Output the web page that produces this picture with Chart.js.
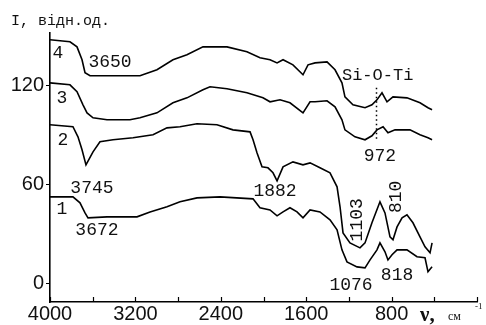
<!DOCTYPE html>
<html>
<head>
<meta charset="utf-8">
<script src="https://cdn.jsdelivr.net/npm/chart.js@4/dist/chart.umd.min.js"></script>
<style>
html,body{margin:0;padding:0;background:#fff;}
</style>
</head>
<body>
<canvas id="irChart" width="486" height="325"></canvas>
<script>
// IR spectra, wavenumber (cm-1) vs intensity (rel. units), curves 1..4
const curve1Wn = [4000,3785,3719,3672,3644,3466,3185,3063,2904,2782,2623,2407,2098,2033,1939,1873,1817,1752,1686,1630,1564,1471,1377,1311,1265,1218,1124,1049,1002,937,909,862,834,796,749,656,562,487,459,421];
const curve1I = [52.7,52.7,49.1,43.0,40.0,40.6,40.6,43.6,46.7,49.7,52.1,52.7,51.5,46.1,44.8,41.2,43.6,46.1,43.6,40.0,44.8,43.6,38.8,32.7,20.6,13.3,10.3,9.7,14.5,20.6,24.8,19.4,14.5,17.6,20.6,20.6,16.4,15.8,7.3,10.3];

const curve2Wn = [4000,3785,3738,3700,3663,3597,3532,3410,3222,3035,2904,2782,2623,2436,2286,2126,2098,2061,2014,1958,1911,1873,1817,1724,1630,1564,1471,1377,1311,1283,1255,1190,1096,1049,984,909,862,815,787,749,702,656,600,534,487,440,421];
const curve2I = [96.4,95.2,89.1,81.2,72.1,80.0,86.1,87.3,88.5,90.3,94.5,95.2,97.0,96.4,93.3,92.1,87.3,79.4,70.9,70.3,67.3,62.4,70.9,73.9,72.1,73.3,70.3,67.3,58.8,46.7,30.9,24.8,21.8,24.8,37.0,49.7,43.0,28.5,26.7,34.5,40.0,41.8,37.0,28.5,22.4,18.8,24.8];

const curve3Wn = [4000,3813,3747,3691,3653,3597,3466,3251,3157,2998,2848,2717,2567,2501,2342,2155,2005,1939,1845,1752,1630,1564,1517,1405,1330,1265,1237,1143,1049,984,937,880,834,768,628,534,459,421];
const curve3I = [121.8,120.6,116.4,108.5,103.6,100.6,99.4,99.4,100.6,103.6,109.7,112.7,117.6,119.4,118.2,115.8,112.7,110.3,111.5,109.7,103.6,110.3,110.3,110.9,107.3,99.4,93.3,89.1,87.3,89.7,93.3,95.2,91.5,93.3,93.3,90.3,88.5,87.3];

const curve4Wn = [4000,3813,3747,3700,3672,3625,3157,2998,2848,2717,2567,2342,2155,2033,1939,1873,1817,1724,1630,1583,1517,1405,1330,1265,1237,1162,1049,984,937,890,843,787,656,534,459,421];
const curve4I = [147.9,146.7,143.6,135.8,127.9,126.1,126.1,129.7,135.8,138.8,143.6,143.6,140.6,137.0,135.8,133.9,135.8,132.7,126.7,132.7,133.9,134.5,129.7,121.8,113.3,108.5,106.7,108.5,111.5,115.8,110.3,113.3,112.7,109.7,106.7,105.5];

const xTickVals = [0,400,800,1200,1600,2000,2400,2800,3200,3600,4000];
const xLabelVals = [800,1600,2400,3200,4000];
const yTickVals = [0,60,120];

// annotations: text, wavenumber, level, rotated
const peakText = ['4','3650','3','2','3745','1','3672','1882','1103','810','1076','818','972'];
const peakWn = [3925,3438,3888,3878,3607,3888,3560,1892,1124,759,1180,749,909];
const peakLevel = [140,134,112.7,87.3,58.2,45.5,32.7,56.4,38.8,52.7,-0.6,5.5,77.6];
const peakRot = [false,false,false,false,false,false,false,false,true,true,false,false,false];

const bandLabel = 'Si-O-Ti';
const bandWn = 946;
const bandFrom = 87.3;
const bandTo = 118.8;

function pts(wn, vals){
  return wn.map((w,i)=>({x:w, y:vals[i]}));
}

function lineSet(wn, vals){
  return {
    data: pts(wn, vals),
    borderColor:'#000',
    borderWidth:1.6,
    pointRadius:0,
    tension:0,
    fill:false
  };
}

const annotPlugin = {
  id:'annot',
  afterDraw(chart){
    const ctx = chart.ctx;
    const x = chart.scales.x;
    const y = chart.scales.y;
    const area = chart.chartArea;
    ctx.save();

    // inward ticks on the wavenumber axis
    ctx.strokeStyle='#000';
    ctx.lineWidth=1.2;
    xTickVals.forEach(v=>{
      const px = Math.round(x.getPixelForValue(v))+0.5;
      ctx.beginPath();
      ctx.moveTo(px, area.bottom);
      ctx.lineTo(px, area.bottom-5);
      ctx.stroke();
    });

    ctx.fillStyle='#111';
    ctx.textAlign='center';
    ctx.textBaseline='middle';
    ctx.font='18px "Liberation Mono"';
    peakText.forEach((t,i)=>{
      const px = x.getPixelForValue(peakWn[i]);
      const py = y.getPixelForValue(peakLevel[i]);
      if(peakRot[i]){
        ctx.save();
        ctx.translate(px, py);
        ctx.rotate(-Math.PI/2);
        ctx.fillText(t, 0, 0);
        ctx.restore();
      } else {
        ctx.fillText(t, px, py);
      }
    });

    // Si-O-Ti band marker
    const bx = Math.round(x.getPixelForValue(bandWn))+0.5;
    ctx.setLineDash([1.5,3]);
    ctx.lineWidth=1.5;
    ctx.beginPath();
    ctx.moveTo(bx, y.getPixelForValue(bandTo));
    ctx.lineTo(bx, y.getPixelForValue(bandFrom));
    ctx.stroke();
    ctx.setLineDash([]);
    ctx.textAlign='left';
    ctx.font='17px "Liberation Mono"';
    ctx.fillText(bandLabel, x.getPixelForValue(1265), y.getPixelForValue(126));

    // axis captions
    ctx.font='15px "Liberation Mono"';
    ctx.textBaseline='alphabetic';
    ctx.fillText('I, відн.од.', 11, 25);

    ctx.font='bold 21px "Liberation Serif"';
    ctx.fillText('ν,', area.right-57, 321);
    ctx.font='12px "Liberation Serif"';
    ctx.fillText('см', area.right-29, 320);
    ctx.font='9px "Liberation Serif"';
    ctx.fillText('-1', area.right-2, 309);
    ctx.restore();
  }
};

new Chart(
document.getElementById('irChart'),
{
type:'line',
data:{
datasets:[
lineSet(curve1Wn, curve1I),
lineSet(curve2Wn, curve2I),
lineSet(curve3Wn, curve3I),
lineSet(curve4Wn, curve4I)
]
},
options:{
responsive:false,
animation:false,
events:[],
layout:{padding:{top:33, right:9, left:0, bottom:0}},
plugins:{legend:{display:false}, tooltip:{enabled:false}},
scales:{
x:{
type:'linear',
reverse:true,
min:0,
max:4000,
afterBuildTicks:s=>{ s.ticks = xTickVals.map(v=>({value:v})); },
afterFit:s=>{ s.height = 23; },
grid:{display:true, drawOnChartArea:false, drawTicks:false},
border:{display:true, color:'#000', width:1.6},
ticks:{
color:'#111',
font:{family:'Liberation Sans', size:20},
padding:0,
maxRotation:0,
autoSkip:false,
callback:v=> xLabelVals.includes(v) ? String(v) : ''
}
},
y:{
min:-11,
max:152,
afterBuildTicks:s=>{ s.ticks = yTickVals.map(v=>({value:v})); },
afterFit:s=>{ s.width = 50; },
grid:{display:true, drawOnChartArea:false, drawTicks:true, tickLength:4, color:'#000'},
border:{display:true, color:'#000', width:1.6},
ticks:{
color:'#111',
font:{family:'Liberation Sans', size:20},
padding:2,
callback:v=> String(v)
}
}
}
},
plugins:[annotPlugin]
}
);
</script>
</body>
</html>
